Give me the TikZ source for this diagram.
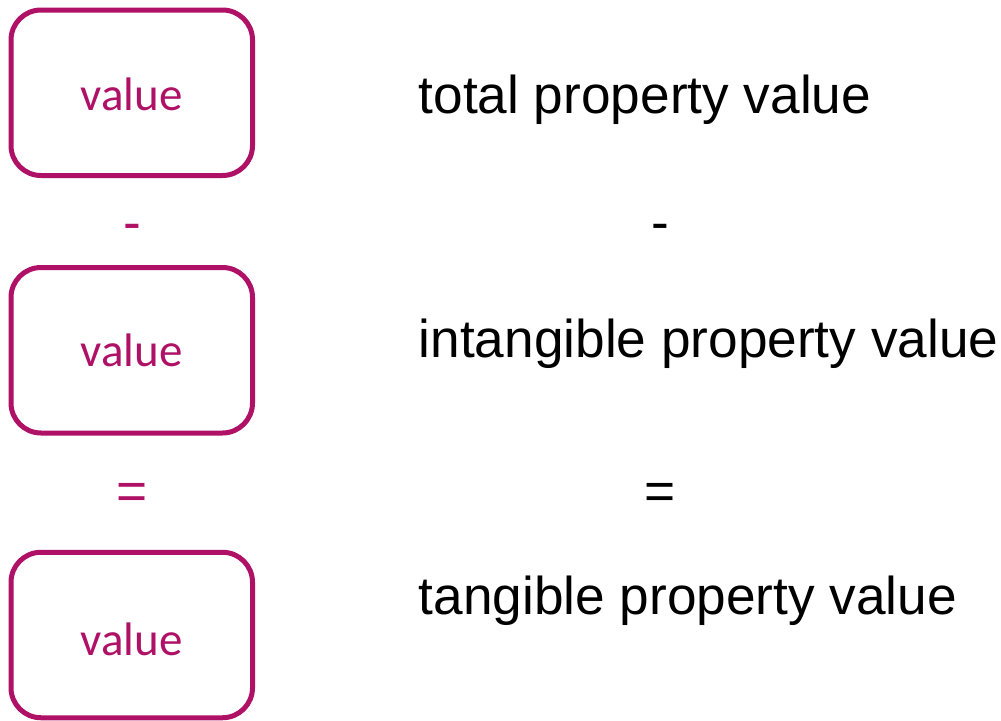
\documentclass[tikz,border=0pt]{standalone}
\usepackage{fontspec}
\setmainfont{Liberation Sans}
\newfontfamily\boxfont{Carlito}
\definecolor{mag}{RGB}{174,17,101}
\tikzset{
  vbox/.style={draw=mag, line width=5pt, rounded corners=30pt, minimum width=241.5pt, minimum height=165.5pt, inner sep=0pt},
  vtext/.style={text=mag, font=\boxfont\fontsize{47}{56}\selectfont, inner sep=0pt, anchor=base},
  rtext/.style={text=black, font=\fontsize{53.2}{60}\selectfont, inner sep=0pt, anchor=base west},
  lsym/.style={text=mag, font=\fontsize{53.2}{60}\selectfont, inner sep=0pt, anchor=base},
  rsym/.style={text=black, font=\fontsize{53.2}{60}\selectfont, inner sep=0pt, anchor=base}
}
\begin{document}
\begin{tikzpicture}[x=1pt,y=-1pt]
\useasboundingbox (0,0) rectangle (1001,720);
\node[vbox] (b1) at (131.75,92.75) {};
\node[vbox] (b2) at (131.75,350.25) {};
\node[vbox] (b3) at (131.75,635) {};
\node[vtext] (v1) at (131.5,110) {value};
\node[vtext] (v2) at (131.5,366) {value};
\node[vtext] (v3) at (131.5,655) {value};
\node[lsym] (m1) at (132,240.6) {-};
\node[lsym] (e1) at (132,509) {=};
\node[rsym] (m2) at (660,240.6) {-};
\node[rsym] (e2) at (660,509) {=};
\node[rtext] (t1) at (418.5,113) {total property value};
\node[rtext] (t2) at (418.5,357) {intangible property value};
\node[rtext] (t3) at (418.5,614) {tangible property value};
\end{tikzpicture}
\end{document}
